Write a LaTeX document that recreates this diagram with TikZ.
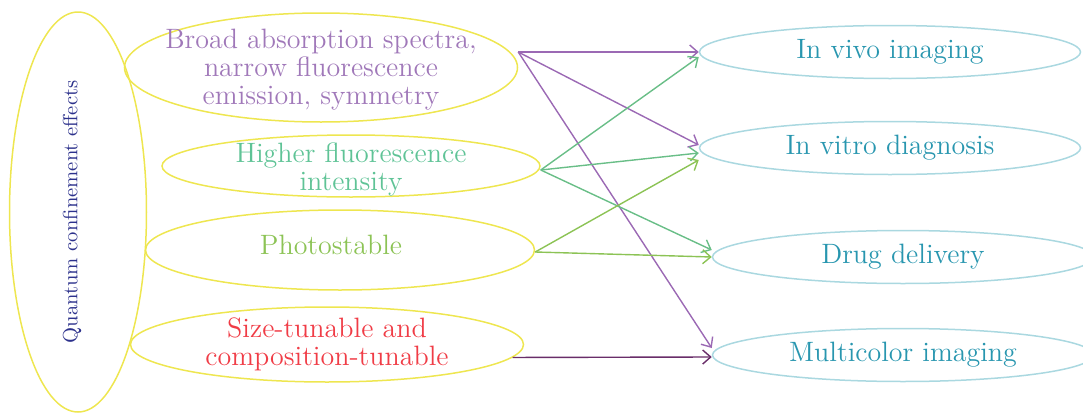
\documentclass[tikz,border=0pt]{standalone}
\usepackage{xcolor}
\usepackage{tikz}
\usetikzlibrary{shapes.geometric,arrows.meta,positioning}

\definecolor{qdyellow}{RGB}{238,230,80}
\definecolor{qdcyan}{RGB}{170,216,224}
\definecolor{qdnavy}{RGB}{45,50,140}
\definecolor{qdpurple}{RGB}{160,120,185}
\definecolor{qdpurpleline}{RGB}{155,105,180}
\definecolor{qdgreen}{RGB}{95,195,150}
\definecolor{qdgreenline}{RGB}{105,190,135}
\definecolor{qdlime}{RGB}{140,195,85}
\definecolor{qdred}{RGB}{240,60,70}
\definecolor{qdplum}{RGB}{105,45,105}
\definecolor{qdteal}{RGB}{40,150,175}

\tikzset{
  oval/.style={draw=qdyellow, line width=0.75pt, ellipse, inner sep=0pt},
  appoval/.style={draw=qdcyan, line width=0.75pt, ellipse, inner sep=0pt, minimum width=190.5pt, minimum height=26.5pt},
  lbl/.style={align=center, font=\fontsize{14}{14}\selectfont},
  link/.style={line width=0.7pt, -{Straight Barb[length=4pt,width=7pt]}},
}

\begin{document}
\begin{tikzpicture}[x=0.5pt,y=0.5pt,yscale=-1]
\useasboundingbox (0,0) rectangle (1083,413);

%Ellipse: quantum confinement effects
\node[oval, minimum width=68.5pt, minimum height=200pt] (qce) at (78,212) {};
%Ellipse: broad absorption
\node[oval, minimum width=196.5pt, minimum height=54.5pt] (broad) at (321,67.5) {};
%Ellipse: higher fluorescence
\node[oval, minimum width=189pt, minimum height=31pt] (higher) at (351,166) {};
%Ellipse: photostable
\node[oval, minimum width=194.5pt, minimum height=40pt] (photo) at (340,250) {};
%Ellipse: size-tunable
\node[oval, minimum width=196.5pt, minimum height=37.5pt] (size) at (327,344.5) {};

%Ellipse: applications
\node[appoval] (invivo) at (890,52) {};
\node[appoval] (invitro) at (890,148) {};
\node[appoval] (drug) at (903,257) {};
\node[appoval] (multi) at (903,355) {};

% Text Node
\node[rotate=90, text=qdnavy, font=\fontsize{10.3}{12}\selectfont] (qcetxt) at (72,212) {Quantum confinement effects};
% Text Node
\node[lbl, text=qdpurple] (broadtxt) at ([yshift=1pt]broad.center) {Broad absorption spectra,\\ narrow fluorescence\\ emission, symmetry};
% Text Node
\node[lbl, text=qdgreen] (highertxt) at ([yshift=1.5pt]higher.center) {Higher fluorescence\\ intensity};
% Text Node
\node[lbl, text=qdlime] (phototxt) at ([xshift=-4.5pt,yshift=-2.5pt]photo.center) {Photostable};
% Text Node
\node[lbl, text=qdred] (sizetxt) at (size) {Size-tunable and\\ composition-tunable};
% Text Node
\node[lbl, text=qdteal] (invivotxt) at (invivo) {In vivo imaging};
% Text Node
\node[lbl, text=qdteal] (invitrotxt) at (invitro) {In vitro diagnosis};
% Text Node
\node[lbl, text=qdteal] (drugtxt) at (drug) {Drug delivery};
% Text Node
\node[lbl, text=qdteal] (multitxt) at (multi) {Multicolor imaging};

%Arrows from broad absorption
\draw[link, qdpurpleline] ([yshift=-7.75pt]broad.east) -- (invivo.west);
\draw[link, qdpurpleline] ([yshift=-7.75pt]broad.east) -- ([yshift=-1.5pt]invitro.west);
\draw[link, qdpurpleline] ([yshift=-7.75pt]broad.east) -- ([yshift=-3.5pt]multi.west);
%Arrows from higher fluorescence
\draw[link, qdgreenline] ([yshift=2pt]higher.east) -- ([yshift=2.5pt]invivo.west);
\draw[link, qdgreenline] ([yshift=2pt]higher.east) -- ([yshift=2.5pt]invitro.west);
\draw[link, qdgreenline] ([yshift=2pt]higher.east) -- ([yshift=-3.5pt]drug.west);
%Arrows from photostable
\draw[link, qdlime] ([yshift=1pt]photo.east) -- ([yshift=6pt]invitro.west);
\draw[link, qdlime] ([yshift=1pt]photo.east) -- (drug.west);
%Arrow from size-tunable
\draw[link, qdplum] (size.-4) -- ([yshift=1pt]multi.west);

\end{tikzpicture}
\end{document}
